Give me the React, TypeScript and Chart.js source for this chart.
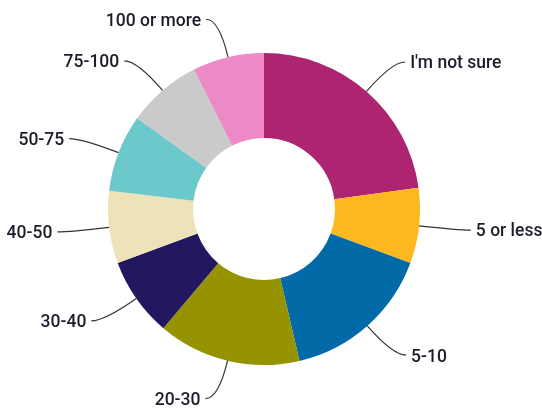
import React, { useEffect, useRef } from "react";
import { Chart, registerables } from "chart.js";

Chart.register(...registerables);

const categories = ["I'm not sure", "5 or less", "5-10", "20-30", "30-40", "40-50", "50-75", "75-100", "100 or more"];
const shares = [22.8, 7.8, 15.7, 14.8, 8.2, 7.5, 8.0, 7.7, 7.4];
const colors = ["#AD2470", "#FDB71F", "#026AA7", "#959400", "#231760", "#EDE2B8", "#6BC9CC", "#CACACA", "#EE89C8"];

const leaderPlugin = {
  id: "leaders",
  afterDraw(chart: any) {
    const ctx = chart.ctx;
    const meta = chart.getDatasetMeta(0);
    ctx.save();
    ctx.font = "500 17.5px Roboto";
    ctx.textBaseline = "middle";
    meta.data.forEach((arc: any, i: number) => {
      const { x, y, startAngle, endAngle, outerRadius } = arc.getProps(["x", "y", "startAngle", "endAngle", "outerRadius"], true);
      const mid = (startAngle + endAngle) / 2;
      const dx = Math.cos(mid);
      const dy = Math.sin(mid);
      const sx = x + dx * outerRadius;
      const sy = y + dy * outerRadius;
      const ex = x + dx * (outerRadius + 39);
      const ey = y + dy * (outerRadius + 39);
      const sign = dx >= 0 ? 1 : -1;
      const fx = ex + sign * 13;
      ctx.beginPath();
      ctx.moveTo(sx, sy);
      ctx.quadraticCurveTo(ex, ey, fx, ey);
      ctx.strokeStyle = "#333";
      ctx.lineWidth = 1.2;
      ctx.stroke();
      ctx.fillStyle = "#1c1c2a";
      ctx.textAlign = sign > 0 ? "left" : "right";
      ctx.fillText(categories[i], fx + sign * 5, ey + 2);
    });
    ctx.restore();
  },
};

export default function App() {
  const ref = useRef<HTMLCanvasElement | null>(null);
  useEffect(() => {
    document.body.style.margin = "0";
    const chart = new Chart(ref.current!, {
      type: "doughnut",
      data: {
        labels: categories,
        datasets: [{ data: shares, backgroundColor: colors, borderWidth: 0 }],
      },
      options: {
        animation: false,
        responsive: false,
        cutout: "45.5%",
        layout: { padding: { top: 53, bottom: 45, left: 108, right: 122 } },
        plugins: { legend: { display: false }, tooltip: { enabled: false } },
      },
      plugins: [leaderPlugin],
    });
    return () => chart.destroy();
  }, []);
  return (
    <div style={{ position: "absolute", left: 0, top: 0, width: 542, height: 410, background: "#fff" }}>
      <canvas ref={ref} width={542} height={410} />
    </div>
  );
}
